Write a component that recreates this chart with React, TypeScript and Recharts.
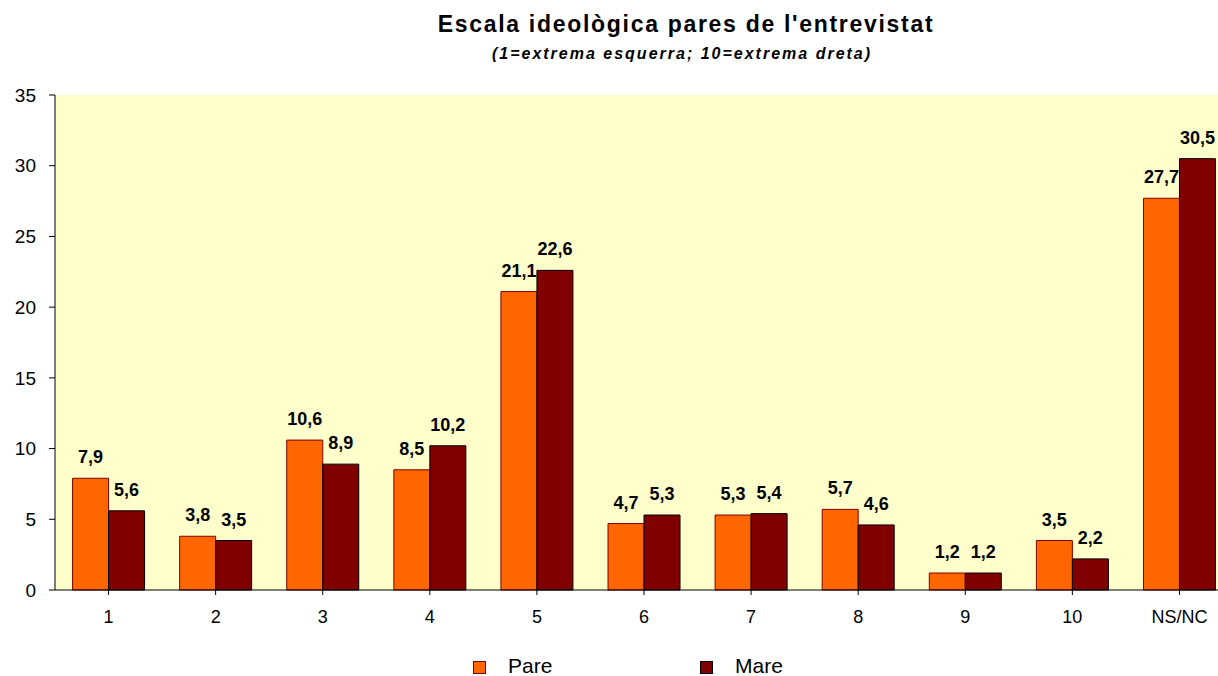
import React from "react";
import { BarChart, Bar, XAxis, YAxis, LabelList, Legend, CartesianGrid } from "recharts";

const categories = ["1", "2", "3", "4", "5", "6", "7", "8", "9", "10", "NS/NC"];
const pare = [7.9, 3.8, 10.6, 8.5, 21.1, 4.7, 5.3, 5.7, 1.2, 3.5, 27.7];
const mare = [5.6, 3.5, 8.9, 10.2, 22.6, 5.3, 5.4, 4.6, 1.2, 2.2, 30.5];
const yTicks = [0, 5, 10, 15, 20, 25, 30, 35];

const data = categories.map((c, i) => ({ cat: c, Pare: pare[i], Mare: mare[i] }));

const FONT = "Arial, 'Liberation Sans', sans-serif";
const fmt = (v: any) => Number(v).toFixed(1).replace(".", ",");

const LegendContent = () => (
  <div style={{ position: "relative", width: 1218, height: 30, fontFamily: FONT, fontSize: 21, color: "#000" }}>
    <div style={{ position: "absolute", left: 473, top: 16, width: 11, height: 11, background: "#FF6600", border: "1px solid #800000" }} />
    <div style={{ position: "absolute", left: 508, top: 9, lineHeight: "24px", whiteSpace: "nowrap" }}>Pare</div>
    <div style={{ position: "absolute", left: 700, top: 16, width: 11, height: 11, background: "#800000", border: "1px solid #000" }} />
    <div style={{ position: "absolute", left: 735, top: 9, lineHeight: "24px", whiteSpace: "nowrap" }}>Mare</div>
  </div>
);

export default function App() {
  return (
    <div style={{ position: "absolute", left: 0, top: 0, width: 1218, height: 676, background: "#fff", fontFamily: FONT, overflow: "hidden" }}>
      <div style={{ position: "absolute", left: 386, top: 11, width: 600, textAlign: "center", fontSize: 23, fontWeight: "bold", color: "#000", letterSpacing: 1.7, whiteSpace: "nowrap" }}>
        Escala ideològica pares de l'entrevistat
      </div>
      <div style={{ position: "absolute", left: 382, top: 45, width: 600, textAlign: "center", fontSize: 16, fontWeight: "bold", fontStyle: "italic", color: "#000", letterSpacing: 2, whiteSpace: "nowrap" }}>
        (1=extrema esquerra; 10=extrema dreta)
      </div>
      <BarChart
        width={1233}
        height={676}
        data={data}
        margin={{ top: 95, right: 0, left: 0, bottom: 26 }}
        barGap={0}
        barCategoryGap="16.4%"
      >
        <CartesianGrid fill="#FFFFCC" stroke="none" horizontal={false} vertical={false} />
        <XAxis
          dataKey="cat"
          tick={{ fill: "#000", fontSize: 18, fontFamily: FONT }}
          tickLine={{ stroke: "#000" }}
          axisLine={{ stroke: "#000" }}
          tickSize={5}
          tickMargin={15}
          interval={0}
          height={30}
        />
        <YAxis
          domain={[0, 35]}
          ticks={yTicks}
          width={55}
          tick={{ fill: "#000", fontSize: 19, fontFamily: FONT }}
          tickLine={{ stroke: "#000" }}
          axisLine={{ stroke: "#000" }}
          tickSize={6}
          tickMargin={13}
          interval={0}
        />
        <Legend verticalAlign="bottom" content={LegendContent} wrapperStyle={{ left: 0, top: 645, width: 1218, height: 30 }} />
        <Bar dataKey="Pare" fill="#FF6600" stroke="#800000" strokeWidth={1} isAnimationActive={false}>
          <LabelList dataKey="Pare" position="top" offset={15} formatter={fmt} style={{ fill: "#000", fontSize: 18, fontWeight: "bold", fontFamily: FONT }} />
        </Bar>
        <Bar dataKey="Mare" fill="#800000" stroke="#000" strokeWidth={1} isAnimationActive={false}>
          <LabelList dataKey="Mare" position="top" offset={15} formatter={fmt} style={{ fill: "#000", fontSize: 18, fontWeight: "bold", fontFamily: FONT }} />
        </Bar>
      </BarChart>
    </div>
  );
}
